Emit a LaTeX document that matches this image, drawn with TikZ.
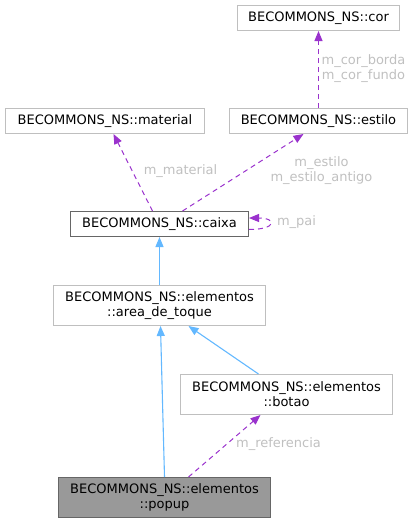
\documentclass[tikz,border=0pt]{standalone}
\usepackage{fontspec}
\setmainfont{DejaVu Sans}
\usepackage{xcolor}
\usetikzlibrary{arrows.meta,positioning}
\definecolor{refcol}{HTML}{9A32CD}
\definecolor{inhcol}{HTML}{63B8FF}
\definecolor{boxcol}{HTML}{BFBFBF}
\definecolor{curcol}{HTML}{666666}
\definecolor{curfill}{HTML}{999999}
\definecolor{labcol}{HTML}{C0C0C0}
\tikzset{
  cls/.style={draw=boxcol, line width=1pt, fill=white, minimum height=25pt,
    inner sep=0pt, align=center, font=\fontsize{13}{15}\selectfont},
  cls2/.style={cls, minimum height=40pt},
  inh/.style={draw=inhcol, line width=1.1pt, -{Triangle[length=10pt,width=8pt]}},
  refedge/.style={draw=refcol, line width=1pt, dash pattern=on 5pt off 4pt,
    -{Triangle[length=10pt,width=8pt]}},
  lbl/.style={text=labcol, align=center, inner sep=0pt,
    font=\fontsize{13}{15}\selectfont}
}

\begin{document}
\begin{tikzpicture}[x=1pt,y=-1pt]
\useasboundingbox (0,0) rectangle (413,523);
\begin{scope}[shift={(0.5,0.5)}]
\node[cls, minimum width=162pt] (cor) at (318,17.5) {BECOMMONS\_NS::cor};
\node[cls, minimum width=199pt] (material) at (104.5,120.5) {BECOMMONS\_NS::material};
\node[cls, minimum width=178pt] (estilo) at (318,120.5) {BECOMMONS\_NS::estilo};
\node[cls, draw=curcol, minimum width=178pt] (caixa) at (159,223.5) {BECOMMONS\_NS::caixa};
\node[cls2, minimum width=212pt] (area) at (159,305) {BECOMMONS\_NS::elementos\\::area\_de\_toque};
\node[cls2, minimum width=212pt] (botao) at (286,394) {BECOMMONS\_NS::elementos\\::botao};
\node[cls2, draw=curcol, fill=curfill, minimum width=212pt] (popup) at (164,497) {BECOMMONS\_NS::elementos\\::popup};

\draw[refedge] (estilo.north) -- (cor.south);
\draw[refedge] ([xshift=-7pt]caixa.north) -- ([xshift=8.5pt]material.south);
\draw[refedge] ([xshift=23pt]caixa.north) -- ([xshift=-15pt]estilo.south);
\draw[refedge] ([yshift=-5.5pt]caixa.east) .. controls +(28,0) and +(28,0) .. ([yshift=6pt]caixa.east);
\draw[inh] (area.north) -- (caixa.south);
\draw[inh] ([xshift=-28pt]botao.north) -- ([xshift=29pt]area.south);
\draw[inh] (popup.north) -- ([xshift=1pt]area.south);
\draw[refedge] ([xshift=24pt]popup.north) -- ([xshift=-26pt]botao.south);

\node[lbl] (lcor) at (363,68) {m\_cor\_borda\\m\_cor\_fundo};
\node[lbl] (lmat) at (180,171) {m\_material};
\node[lbl] (lest) at (321,170) {m\_estilo\\m\_estilo\_antigo};
\node[lbl] (lpai) at (296,222) {m\_pai};
\node[lbl] (lref) at (278,444) {m\_referencia};
\end{scope}
\end{tikzpicture}
\end{document}
